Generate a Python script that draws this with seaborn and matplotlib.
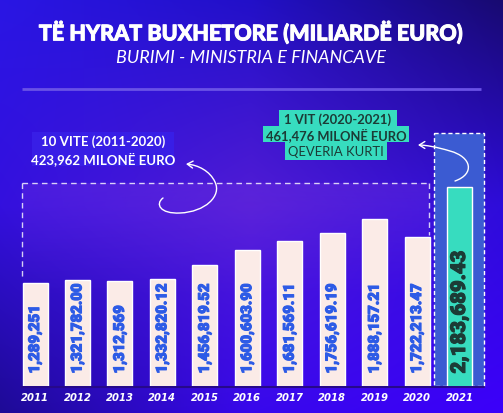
import matplotlib
matplotlib.use("Agg")
import matplotlib.pyplot as plt
import matplotlib.patheffects as pe
import numpy as np
import pandas as pd
import seaborn as sns
from matplotlib import font_manager
from matplotlib.patches import Rectangle, FancyArrowPatch
from matplotlib.path import Path

years = ["2011", "2012", "2013", "2014", "2015", "2016", "2017", "2018", "2019", "2020", "2021"]
revenues = [1289251, 1321782.00, 1312569, 1332820.12, 1456819.52, 1600603.90,
            1681569.11, 1756619.19, 1888157.21, 1722213.47, 2183689.43]
value_labels = ["1,289,251", "1,321,782.00", "1,312,569", "1,332,820.12", "1,456,819.52",
                "1,600,603.90", "1,681,569.11", "1,756,619.19", "1,888,157.21",
                "1,722,213.47", "2,183,689.43"]

TITLE = "TË HYRAT BUXHETORE (MILIARDË EURO)"
SUBTITLE = "BURIMI - MINISTRIA E FINANCAVE"
NOTE_LEFT = ["10 VITE (2011-2020)", "423,962 MILONË EURO"]
NOTE_RIGHT = ["1 VIT (2020-2021)", "461,476 MILONË EURO", "QEVERIA KURTI"]

CREAM = "#fbebe7"
TEAL = "#37dcbf"
LABEL_BLUE = "#2d5be6"
DARK_TEAL = "#1c3b36"

names = {f.name for f in font_manager.fontManager.ttflist}
NARROW = "Roboto" if "Roboto" in names else "DejaVu Sans"
HEAD = "Lato" if "Lato" in names else "DejaVu Sans"

W, H = 503, 414


def background():
    # 3x3 colour control grid, bilinear blend
    ctrl = np.array([
        [(42, 22, 228), (34, 16, 200), (24, 10, 112)],
        [(52, 16, 222), (82, 28, 214), (46, 12, 218)],
        [(30, 10, 150), (56, 8, 236), (60, 0, 250)],
    ], dtype=float) / 255.0
    xs = np.linspace(0, 1, W)
    ys = np.linspace(0, 1, H)
    rows = np.stack([
        np.stack([np.interp(xs, [0, 0.5, 1], ctrl[r, :, c]) for c in range(3)], axis=-1)
        for r in range(3)
    ])
    img = np.empty((H, W, 3))
    for c in range(3):
        for j in range(W):
            img[:, j, c] = np.interp(ys, [0, 0.5, 1], rows[:, j, c])
    return np.clip(img, 0, 1)


sns.set_theme(style="white")
fig = plt.figure(figsize=(W / 100, H / 100), dpi=100)

bg = fig.add_axes([0, 0, 1, 1])
bg.imshow(background(), extent=(0, W, H, 0), aspect="auto", zorder=0)
bg.set_xlim(0, W)
bg.set_ylim(H, 0)
bg.axis("off")

# title block
bg.text(251, 33, TITLE, color="white", fontsize=15.5, fontweight="black",
        family=HEAD, ha="center", va="center",
        path_effects=[pe.withStroke(linewidth=0.7, foreground="white")])
bg.text(251, 58, SUBTITLE, color="white", fontsize=13, style="italic",
        family=HEAD, fontweight="normal", ha="center", va="center")
bg.plot([22, 481], [90, 90], color="#6a52e6", lw=2, solid_capstyle="butt")

# 2011-2020 dashed region
fade = np.zeros((60, 2, 4))
fade[..., 0], fade[..., 1], fade[..., 2] = 0.45, 0.2, 0.9
fade[..., 3] = np.linspace(0.35, 0.0, 60)[:, None]
bg.imshow(fade, extent=(22, 429, 300, 184), aspect="auto", zorder=1)
dash = dict(color="white", lw=1, ls=(0, (4, 3)), alpha=0.8, zorder=2)
bg.plot([22, 429], [184, 184], **dash)
bg.plot([22, 22], [184, 280], **dash)
bg.plot([429, 429], [184, 236], **dash)

# 2021 highlight
bg.add_patch(Rectangle((434, 134), 50, 253, facecolor="#3b5bd2",
                       edgecolor="white", lw=1, ls=(0, (3, 2)), zorder=2))
bg.plot([22, 484], [388, 388], color="#26098a", lw=1.5, zorder=2)

# notes
bg.add_patch(Rectangle((32, 133), 142, 34, facecolor="#381ee6", edgecolor="none", zorder=2))
bg.text(103.5, 142, NOTE_LEFT[0], color="white", fontsize=9.5, fontweight="bold",
        family=HEAD, ha="center", va="center", zorder=3)
bg.text(103.5, 159, NOTE_LEFT[1], color="white", fontsize=9.5, fontweight="bold",
        family=HEAD, ha="center", va="center", zorder=3)

for (x0, x1, y0, y1), line, wt in zip(
        [(279, 397, 111, 127), (263, 409, 127, 143), (285, 387, 143, 161)],
        NOTE_RIGHT, ["bold", "bold", "normal"]):
    bg.add_patch(Rectangle((x0, y0), x1 - x0, y1 - y0, facecolor=TEAL,
                           edgecolor="none", zorder=2))
    bg.text((x0 + x1) / 2, (y0 + y1) / 2 + 0.5, line, color=DARK_TEAL, fontsize=9.4,
            fontweight=wt, family=HEAD, ha="center", va="center", zorder=3)

# curved arrows
arrow1 = Path([(163, 199), (155, 205), (160, 215), (180, 214),
               (205, 213), (222, 197), (215, 183),
               (210, 172), (198, 166), (186, 165)],
              [Path.MOVETO] + [Path.CURVE4] * 9)
arrow2 = Path([(455, 182), (475, 175), (472, 158), (450, 152),
               (437, 148), (425, 146), (418, 146)],
              [Path.MOVETO] + [Path.CURVE4] * 6)
for p in (arrow1, arrow2):
    bg.add_patch(FancyArrowPatch(path=p, arrowstyle="->,head_length=4,head_width=2.5",
                                 color="white", lw=1, zorder=4))

# bars
df = pd.DataFrame({"year": years, "revenue": revenues})
palette = {y: CREAM for y in years}
palette[years[-1]] = TEAL

ax = fig.add_axes([13.8 / W, 27 / H, 466.9 / W, 257 / H])
ax.patch.set_alpha(0)
sns.barplot(data=df, x="year", y="revenue", hue="year", palette=palette,
            legend=False, width=0.59, saturation=1, ax=ax)
ax.set_xlim(-0.5, len(years) - 0.5)
ax.set_ylim(340000, 2720000)
ax.set_xlabel("")
ax.set_ylabel("")
ax.set_yticks([])
for s in ax.spines.values():
    s.set_visible(False)
ax.tick_params(axis="x", length=0, pad=4)
for t in ax.get_xticklabels():
    t.set_color("white")
    t.set_fontsize(7.2)
    t.set_fontweight("bold")
    t.set_fontstyle("italic")

for i, lab in enumerate(value_labels):
    last = i == len(value_labels) - 1
    col = DARK_TEAL if last else LABEL_BLUE
    ax.annotate(lab, xy=(i, 340000), xytext=(0, 9), textcoords="offset points",
                rotation=90, ha="center", va="bottom", color=col,
                fontsize=14.6 if last else 10.7, fontweight="black", family=NARROW,
                path_effects=[pe.withStroke(linewidth=0.8, foreground=col)])

fig.savefig("out.png", dpi=100)
